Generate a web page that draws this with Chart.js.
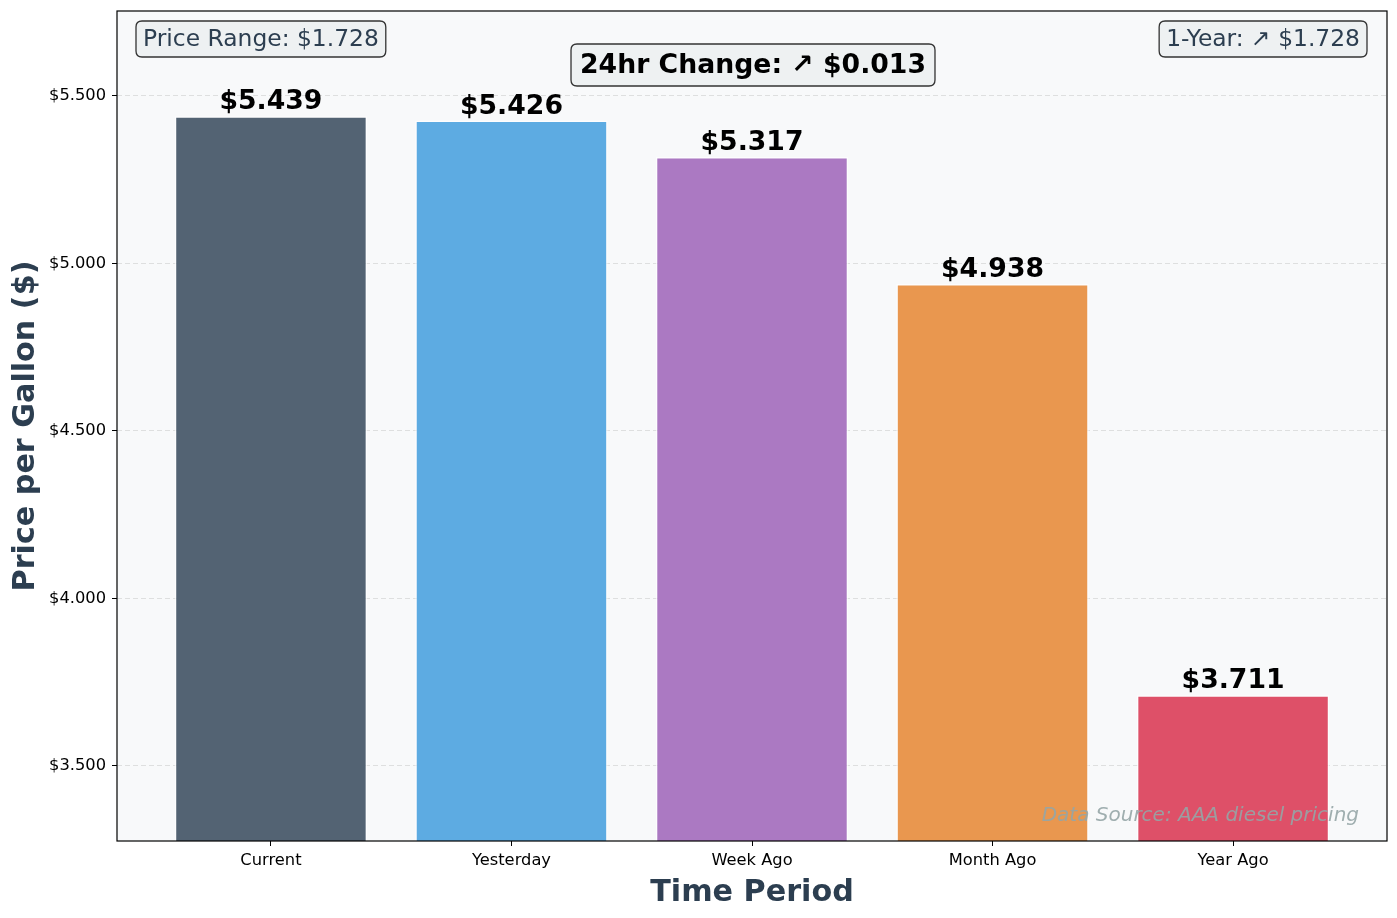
<!DOCTYPE html>
<html>
<head>
<meta charset="utf-8">
<script src="https://cdn.jsdelivr.net/npm/chart.js@4/dist/chart.umd.min.js"></script>
<style>
html,body{margin:0;padding:0;background:#fff;}
#wrap{width:1397px;height:918px;position:relative;}
</style>
</head>
<body>
<div id="wrap"><canvas id="c" width="1397" height="918"></canvas></div>
<script>
// ---- data ----
const categories = ["Current", "Yesterday", "Week Ago", "Month Ago", "Year Ago"];
const prices = [5.439, 5.426, 5.317, 4.938, 3.711];
const barColors = ["#536373", "#5dabe2", "#ab79c2", "#e9974f", "#de5068"];
const yTickValues = [3.5, 4.0, 4.5, 5.0, 5.5];
const priceRangeText = "Price Range: $1.728";
const yearText = "1-Year: \u2197 $1.728";
const dayChangeText = "24hr Change: \u2197 $0.013";
const sourceText = "Data Source: AAA diesel pricing";
const xTitle = "Time Period";
const yTitle = "Price per Gallon ($)";

const FONT = "'DejaVu Sans', 'Liberation Sans', sans-serif";

function roundBox(ctx, x, y, w, h, r) {
  ctx.beginPath();
  ctx.moveTo(x + r, y);
  ctx.lineTo(x + w - r, y);
  ctx.quadraticCurveTo(x + w, y, x + w, y + r);
  ctx.lineTo(x + w, y + h - r);
  ctx.quadraticCurveTo(x + w, y + h, x + w - r, y + h);
  ctx.lineTo(x + r, y + h);
  ctx.quadraticCurveTo(x, y + h, x, y + h - r);
  ctx.lineTo(x, y + r);
  ctx.quadraticCurveTo(x, y, x + r, y);
  ctx.closePath();
}

const bgPlugin = {
  id: 'bg',
  beforeDraw(chart) {
    const {ctx, chartArea: a} = chart;
    ctx.save();
    ctx.fillStyle = '#ffffff';
    ctx.fillRect(0, 0, chart.width, chart.height);
    ctx.fillStyle = '#f8f9fa';
    ctx.fillRect(a.left, a.top, a.right - a.left, a.bottom - a.top);
    ctx.restore();
  }
};

const overlayPlugin = {
  id: 'overlay',
  afterDraw(chart) {
    const {ctx, chartArea: a} = chart;
    const xs = chart.scales.x, ys = chart.scales.y;
    ctx.save();
    // frame
    ctx.strokeStyle = '#000';
    ctx.lineWidth = 1.2;
    ctx.strokeRect(a.left, a.top, a.right - a.left, a.bottom - a.top);

    // value labels
    ctx.fillStyle = '#000';
    ctx.font = "bold 26.7px " + FONT;
    ctx.textAlign = 'center';
    ctx.textBaseline = 'alphabetic';
    prices.forEach((v, i) => {
      const px = xs.getPixelForValue(i);
      const py = ys.getPixelForValue(v);
      ctx.fillText('$' + v.toFixed(3), px, py - 7);
    });

    // watermark
    ctx.font = "italic 20px " + FONT;
    ctx.fillStyle = 'rgba(149,165,166,0.9)';
    ctx.textAlign = 'right';
    ctx.fillText(sourceText, a.right - 28, a.bottom - 20);

    // annotation boxes
    function box(text, font, color, anchorX, align, cy, padX, h) {
      ctx.font = font;
      const w = ctx.measureText(text).width;
      let left;
      if (align === 'left') left = anchorX;
      else if (align === 'right') left = anchorX - w - 2 * padX;
      else left = anchorX - w / 2 - padX;
      roundBox(ctx, left, cy - h / 2, w + 2 * padX, h, 6);
      ctx.fillStyle = 'rgba(236,240,241,0.9)';
      ctx.fill();
      ctx.strokeStyle = '#333';
      ctx.lineWidth = 1.3;
      ctx.stroke();
      ctx.fillStyle = color;
      ctx.textAlign = 'left';
      ctx.textBaseline = 'middle';
      ctx.fillText(text, left + padX, cy + 1);
    }
    box(priceRangeText, "23.4px " + FONT, '#2c3e50', a.left + 19, 'left', 39, 7, 36);
    box(yearText, "23.4px " + FONT, '#2c3e50', a.right - 20, 'right', 39, 7, 36);
    box(dayChangeText, "bold 26.7px " + FONT, '#000', (a.left + a.right) / 2 + 1, 'center', 65, 9, 42);

    // axis titles
    ctx.fillStyle = '#2c3e50';
    ctx.font = "bold 30.2px " + FONT;
    ctx.textAlign = 'center';
    ctx.textBaseline = 'alphabetic';
    ctx.fillText(xTitle, (a.left + a.right) / 2, 901);
    ctx.save();
    ctx.translate(34, (a.top + a.bottom) / 2);
    ctx.rotate(-Math.PI / 2);
    ctx.fillText(yTitle, 0, 0);
    ctx.restore();
    ctx.restore();
  }
};

new Chart(document.getElementById('c'), {
  type: 'bar',
  data: {
    datasets: [{
      data: prices.map((v, i) => ({x: i, y: v})),
      backgroundColor: barColors,
      borderColor: 'rgba(255,255,255,0.7)',
      borderWidth: 1.5,
      borderSkipped: false,
      barPercentage: 0.8,
      categoryPercentage: 1.0
    }]
  },
  options: {
    responsive: false,
    animation: false,
    events: [],
    layout: {padding: {top: 11, right: 10, left: 0, bottom: 0}},
    plugins: {legend: {display: false}, tooltip: {enabled: false}},
    scales: {
      x: {
        type: 'linear',
        min: -0.64,
        max: 4.64,
        offset: false,
        afterBuildTicks: (s) => { s.ticks = categories.map((c, i) => ({value: i})); },
        afterFit: (s) => { s.height = 77; s.paddingLeft = 0; s.paddingRight = 0; },
        grid: {offset: false, drawOnChartArea: false, drawTicks: true, tickLength: 5, tickColor: '#000', tickWidth: 1},
        border: {display: false},
        ticks: {
          autoSkip: false,
          maxRotation: 0,
          padding: 5,
          color: '#000',
          font: {family: FONT, size: 16.3},
          callback: (v) => categories[Math.round(v)] ?? ''
        }
      },
      y: {
        min: 3.276,
        max: 5.753,
        afterBuildTicks: (s) => { s.ticks = yTickValues.map(v => ({value: v})); },
        afterFit: (s) => { s.width = 117; s.paddingTop = 0; s.paddingBottom = 0; },
        grid: {
          color: 'rgba(190,190,190,0.45)',
          lineWidth: 1,
          drawTicks: true,
          tickLength: 5,
          tickColor: '#000',
          tickWidth: 1,
          tickBorderDash: []
        },
        border: {display: false, dash: [5, 3]},
        ticks: {
          padding: 6,
          color: '#000',
          font: {family: FONT, size: 16.3},
          callback: (v) => '$' + Number(v).toFixed(3)
        }
      }
    }
  },
  plugins: [bgPlugin, overlayPlugin]
});
</script>
</body>
</html>
